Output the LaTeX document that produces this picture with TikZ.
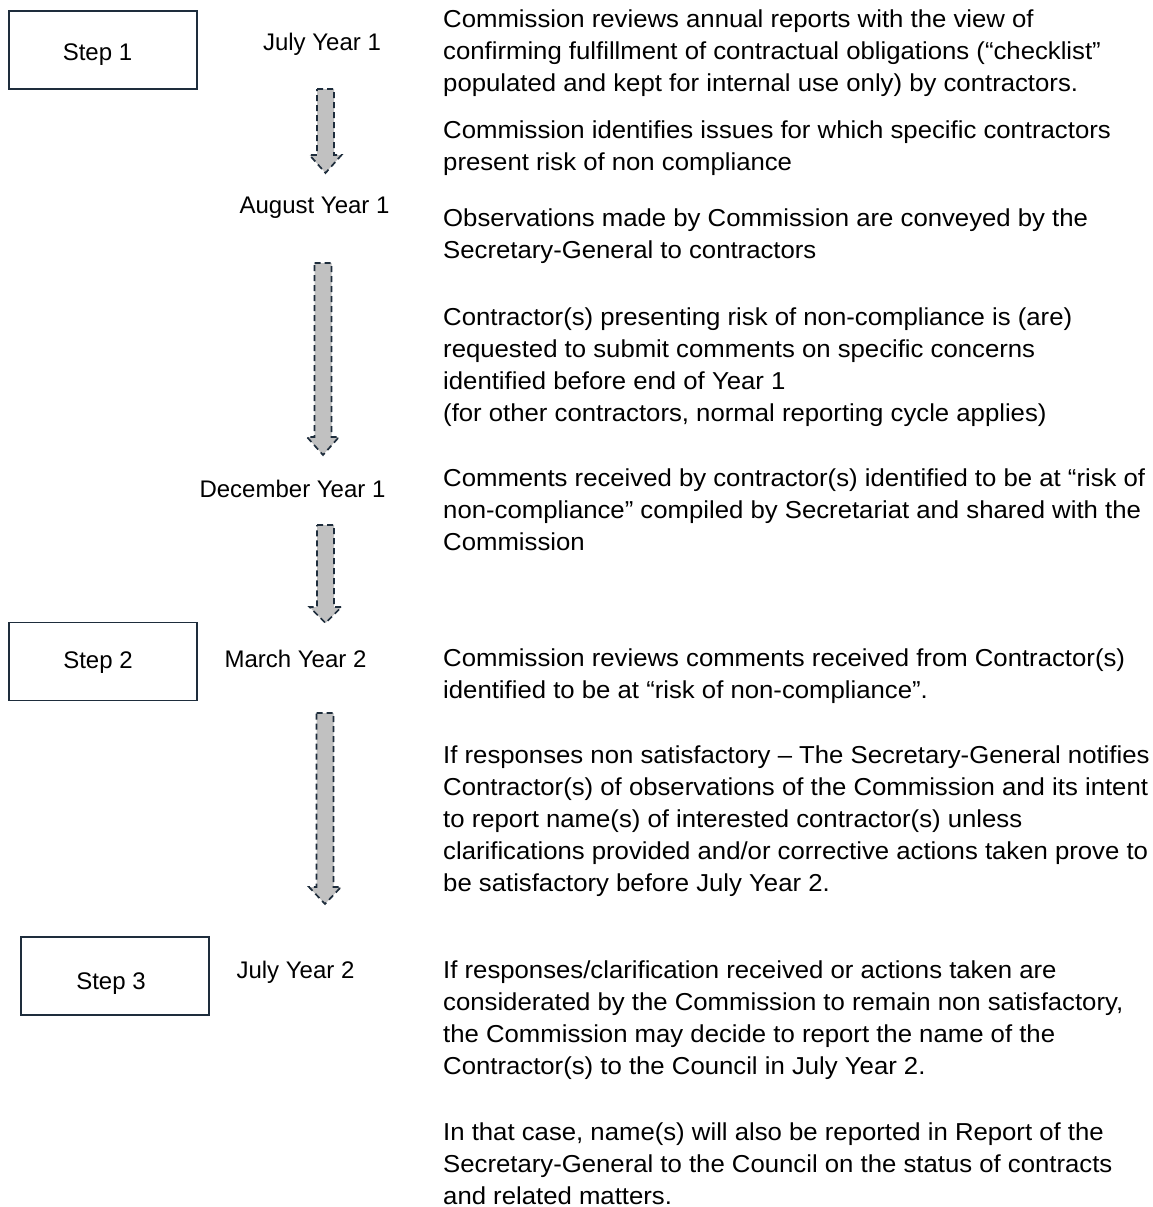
\documentclass[tikz,border=0pt]{standalone}
\usepackage{fontspec}
\setmainfont{Liberation Sans}
\newfontfamily\bodyfont[FakeStretch=1.05]{Liberation Sans}
\definecolor{navy}{HTML}{1E2D3C}
\definecolor{arrowgray}{HTML}{C1C1C1}
\newcommand\BlockArrow[5]{% name, cx, ytop, yhead, ytip
  \coordinate (#1) at (#2,#3);
  \draw[blockarr] (#2-8.5,#3) -- (#2+8.5,#3) -- (#2+8.5,#4) -- (#2+16,#4) -- (#2,#5) -- (#2-16,#4) -- (#2-8.5,#4) -- cycle;
}
\begin{document}
\begin{tikzpicture}[x=1pt,y=-1pt,
  every node/.style={font=\fontsize{24}{32}\selectfont, inner sep=0pt},
  txt/.style={anchor=north west, align=left, font=\bodyfont\fontsize{24.5}{32}\selectfont},
  date/.style={anchor=base},
  stepbox/.style={draw=navy, line width=1.8pt, minimum width=188pt, minimum height=78pt, text depth=0pt},
  blockarr/.style={draw=navy, fill=arrowgray, line width=1.7pt, dash pattern=on 6pt off 4pt, line join=miter}
]
\useasboundingbox (0,0) rectangle (1153,1207);
\fill[white] (0,0) rectangle (1153,1207);

% step boxes
\node[stepbox, text height=20pt] (s1) at (103,50) {\hspace*{-11pt}Step 1};
\node[stepbox, text height=13pt] (s2) at (103,661.5) {\hspace*{-10pt}Step 2};
\node[stepbox, text height=26pt] (s3) at (115,976) {\hspace*{-8pt}Step 3};

% dates
\node[date] (d1) at (322,51) {July Year 1};
\node[date] (d2) at (314.5,213) {August Year 1};
\node[date] (d3) at (292.5,497) {December Year 1};
\node[date] (d4) at (295.5,667) {March Year 2};
\node[date] (d5) at (295.5,978) {July Year 2};

% arrows
\BlockArrow{a1}{325.5}{89}{155}{173}
\BlockArrow{a2}{323}{263}{437}{455}
\BlockArrow{a3}{325.5}{525}{607}{623}
\BlockArrow{a4}{325}{713}{887}{904}

% texts
\node[txt] (t1) at (443,{27-22.4}) {\strut Commission reviews annual reports with the view of\\confirming fulfillment of contractual obligations (“checklist”\\populated and kept for internal use only) by contractors.};
\node[txt] (t2) at (443,{138-22.4}) {\strut Commission identifies issues for which specific contractors\\present risk of non compliance};
\node[txt] (t3) at (443,{226-22.4}) {\strut Observations made by Commission are conveyed by the\\Secretary-General to contractors};
\node[txt] (t4) at (443,{325-22.4}) {\strut Contractor(s) presenting risk of non-compliance is (are)\\requested to submit comments on specific concerns\\identified before end of Year 1\\(for other contractors, normal reporting cycle applies)};
\node[txt] (t5) at (443,{486-22.4}) {\strut Comments received by contractor(s) identified to be at “risk of\\non-compliance” compiled by Secretariat and shared with the\\Commission};
\node[txt] (t6) at (443,{666-22.4}) {\strut Commission reviews comments received from Contractor(s)\\identified to be at “risk of non-compliance”.};
\node[txt] (t7) at (443,{763-22.4}) {\strut If responses non satisfactory – The Secretary-General notifies\\Contractor(s) of observations of the Commission and its intent\\to report name(s) of interested contractor(s) unless\\clarifications provided and/or corrective actions taken prove to\\be satisfactory before July Year 2.};
\node[txt] (t8) at (443,{978-22.4}) {\strut If responses/clarification received or actions taken are\\considerated by the Commission to remain non satisfactory,\\the Commission may decide to report the name of the\\Contractor(s) to the Council in July Year 2.};
\node[txt] (t9) at (443,{1140-22.4}) {\strut In that case, name(s) will also be reported in Report of the\\Secretary-General to the Council on the status of contracts\\and related matters.};
\end{tikzpicture}
\end{document}
